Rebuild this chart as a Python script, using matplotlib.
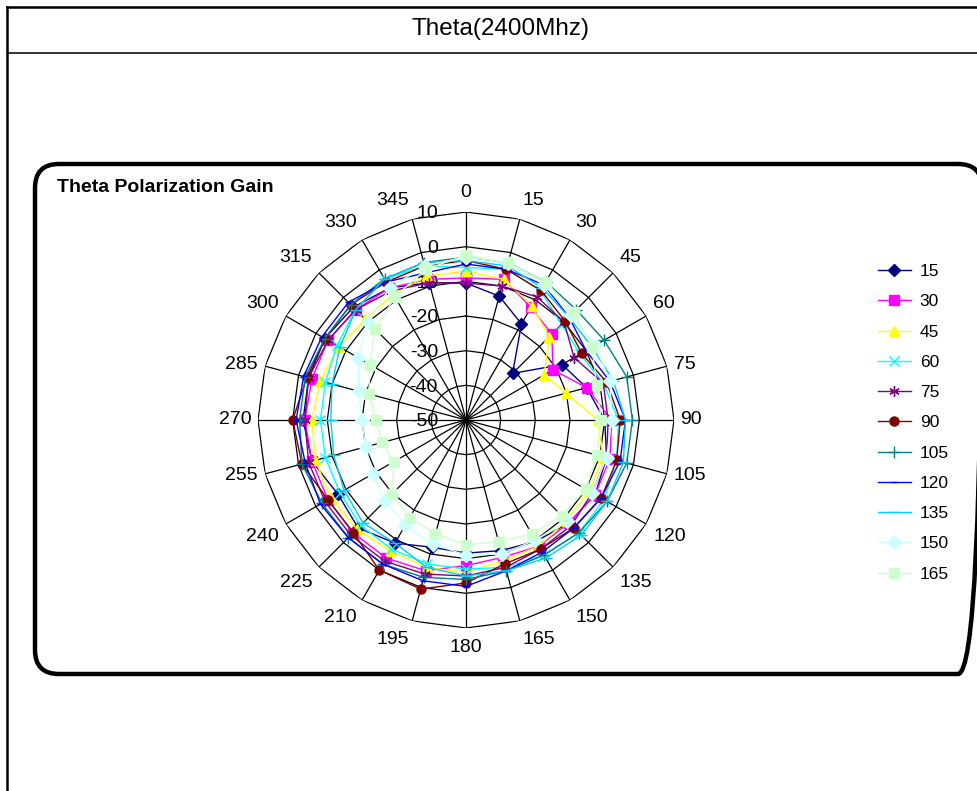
import numpy as np
import matplotlib
matplotlib.use('Agg')
import matplotlib.pyplot as plt
from matplotlib.patches import FancyBboxPatch

plt.rcParams['font.family'] = ['Liberation Sans', 'DejaVu Sans']

# Datos del diagrama (ganancia en dB cada 15 grados)
angulos = list(range(0, 360, 15))
niveles = [10, 0, -10, -20, -30, -40, -50]
nombres = ['15', '30', '45', '60', '75', '90', '105', '120', '135', '150', '165']

g15 = [-10.5, -13, -18, -31, -18, -14, -10, -8, -7, -8, -9.6, -11,
       -11.6, -12, -9, -6, -7.3, -4, -3, -3, -3, -4, -6, -9]
g30 = [-9, -8, -12.5, -15, -21, -14, -8, -7, -7, -8, -8, -9,
       -8, -5, -4, -4, -4, -4, -3.5, -4, -4, -5, -6, -8]
g45 = [-7, -8, -12, -16, -24, -20, -12, -9, -9, -9, -8, -8,
       -6, -6, -6.4, -5.5, -5, -5, -5.5, -6.5, -7.6, -9, -8, -7]
g60 = [-6, -5, -7, -11, -12, -9, -6, -5, -4, -4, -5, -6,
       -7, -7, -7, -7, -8, -8, -8, -8, -7, -5, -3, -4]
g75 = [-10.5, -10, -9, -10, -14, -9, -9, -8, -8, -7, -7, -6,
       -5, -4, -3, -3, -3, -3, -3.5, -3, -4, -5, -7, -9]
g90 = [-4, -5, -6.8, -9.6, -11.5, -8, -5.5, -5, -5, -6, -7, -7,
       -3, 0.5, 0, -4, -4, -1, 0, -2.5, -3, -3, -4, -4]
g105 = [-3, -3, -4, -5, -4, -2, -2, -2, -3, -4, -5, -5,
        -4, -3, -2, -2, -2, -1, -2, -2, -3, -3, -3, -3]
g120 = [-5, -5, -5, -8, -10, -7, -4, -4, -5, -6, -6, -5,
        -2, -2, -2, -2, -1.5, -2, -1, -1.5, -2, -2, -4, -6]
g135 = [-4, -4, -6, -8, -8, -6, -4, -3, -3, -3, -4, -5,
        -5, -6, -9, -8, -9.4, -10.5, -11, -10, -8, -5, -3, -3]
g150 = [-3, -3, -5, -7, -7, -7, -8, -8, -8, -9, -10, -10,
        -11, -13, -15, -17, -19, -20, -20, -18, -14, -10, -6, -4]
g165 = [-2.5, -3, -4, -6, -8, -11, -11, -11, -10, -11, -12, -13.7,
        -14, -16, -17.5, -20, -26, -25, -24, -21, -18, -13, -9, -5]

series = [g15, g30, g45, g60, g75, g90, g105, g120, g135, g150, g165]

colores = ['#000080', '#FF00FF', '#FFFF00', '#00FFFF', '#800080', '#800000',
           '#008080', '#0000FF', '#00CCFF', '#CCFFFF', '#CCFFCC']
marcas = ['D', 's', '^', 'x', (6, 2, 0), 'o', '+', '_', '_', 'D', 's']
tamanos = [6, 6.5, 6.5, 6.5, 7.5, 6.5, 8.5, 5, 8, 7, 7.5]

W, H = 977, 791
fig = plt.figure(figsize=(W / 100, H / 100), dpi=100)

# fondo en pixeles: marco de la tabla y caja redondeada
fondo = fig.add_axes([0, 0, 1, 1])
fondo.set_xlim(0, W)
fondo.set_ylim(H, 0)
fondo.axis('off')
fondo.plot([7, 7], [7, H], color='black', lw=1.8)
fondo.plot([7, W], [7, 7], color='black', lw=1.8)
fondo.plot([7, W], [53, 53], color='#222222', lw=1.3)
fondo.text(501, 29, 'Theta(2400Mhz)', ha='center', va='center', fontsize=17.5)

caja = FancyBboxPatch((35, 164), 947, 510, boxstyle='round,pad=0,rounding_size=24',
                      fill=False, ec='black', lw=3.2)
fondo.add_patch(caja)
fondo.text(57, 188, 'Theta Polarization Gain', ha='left', va='center',
           fontsize=14, fontweight='bold')

# diagrama radar
R = 208
cx, cy = 466, 420
ax = fig.add_axes([(cx - R) / W, (H - cy - R) / H, 2 * R / W, 2 * R / H], projection='polar')
ax.set_theta_zero_location('N')
ax.set_theta_direction(-1)
ax.set_ylim(-50, 10)
ax.grid(False)
ax.set_xticks([])
ax.set_yticks([])
ax.spines['polar'].set_visible(False)
ax.patch.set_visible(False)

th = np.deg2rad(angulos + [angulos[0]])
for v in niveles[:-1]:
    ax.plot(th, [v] * len(th), color='black', lw=0.9, zorder=1)
for a in angulos:
    ax.plot([np.deg2rad(a)] * 2, [-50, 10], color='black', lw=0.9, zorder=1)

lineas = []
for i in range(len(series)):
    valores = series[i] + [series[i][0]]
    ln, = ax.plot(th, valores, color=colores[i], lw=1.0, marker=marcas[i],
                  markersize=tamanos[i], markerfacecolor=colores[i],
                  markeredgecolor=colores[i], zorder=3 + i * 0.1, clip_on=False)
    lineas.append(ln)

# etiquetas de angulo
for a in angulos:
    s, c = np.sin(np.deg2rad(a)), np.cos(np.deg2rad(a))
    ha = 'left' if s > 0.1 else ('right' if s < -0.1 else 'center')
    va = 'bottom' if c > 0.3 else ('top' if c < -0.3 else 'center')
    d = 6 + 5 * abs(c)
    ax.annotate(str(a), xy=(np.deg2rad(a), 10), xytext=(s * d, c * d),
                textcoords='offset pixels', ha=ha, va=va, fontsize=14)

# etiquetas radiales
for v in niveles:
    ax.annotate(str(v), xy=(0, v), xytext=(-28, 0), textcoords='offset pixels',
                ha='right', va='center_baseline', fontsize=14, zorder=2)

fig.legend(lineas, nombres, loc='upper left', bbox_to_anchor=(878 / W, 1 - 264 / H),
           frameon=False, fontsize=12.5, handlelength=1.9, handletextpad=0.5,
           labelspacing=0.87, numpoints=1, borderaxespad=0, borderpad=0)

fig.savefig('out.png', dpi=100)
